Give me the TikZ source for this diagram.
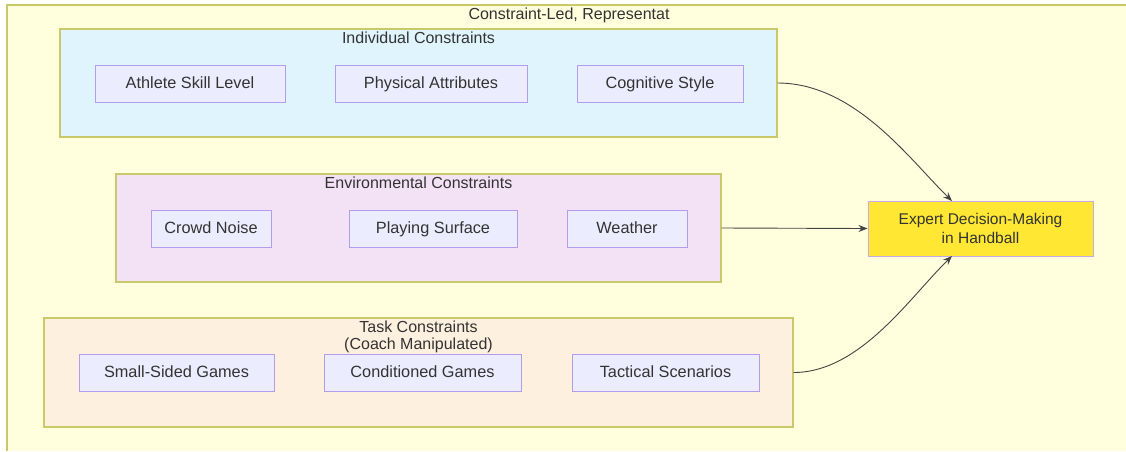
\documentclass[tikz,border=0pt]{standalone}
\usepackage{fontspec}
\setmainfont{Liberation Sans}
\usetikzlibrary{arrows.meta}
\definecolor{outerfill}{HTML}{FFFFDE}
\definecolor{clusterline}{HTML}{C9C96A}
\definecolor{indfill}{HTML}{DFF4FD}
\definecolor{envfill}{HTML}{F3E2F5}
\definecolor{taskfill}{HTML}{FEF0DF}
\definecolor{itemfill}{HTML}{ECECFF}
\definecolor{itemline}{HTML}{B39CEB}
\definecolor{goalfill}{HTML}{FFE733}
\definecolor{goalline}{HTML}{C9A8E6}
\definecolor{txt}{HTML}{333333}
\definecolor{edge}{HTML}{444444}
\tikzset{
  cluster/.style={draw=clusterline, line width=1.1pt, rectangle, inner sep=0pt},
  item/.style={draw=itemline, fill=itemfill, line width=1pt, rectangle, minimum height=37pt,
    inner sep=0pt, text=txt, text height=13pt, text depth=3pt,
    font=\fontsize{16.3}{19}\selectfont},
  ctitle/.style={text=txt, font=\fontsize{16}{19}\selectfont, inner sep=0pt,
    text height=13pt, text depth=3pt},
  goal/.style={draw=goalline, fill=goalfill, line width=1pt, rectangle, minimum width=225pt,
    minimum height=55pt, inner sep=0pt, align=center, text=txt,
    font=\fontsize{15.5}{19}\selectfont},
  link/.style={draw=edge, line width=0.9pt, -{Stealth[length=9pt,width=7pt]}}
}
\begin{document}
\begin{tikzpicture}[x=1pt,y=-1pt]
\useasboundingbox (0,0) rectangle (1126,451);
\fill[white] (0,0) rectangle (1126,451);
% outer frame
\fill[outerfill] (7,5) rectangle (1126,451);
\draw[clusterline, line width=1.1pt] (7,451) -- (7,5) -- (1126,5);
\node[ctitle] (outertitle) at (569,14) {Constraint-Led, Representat};

% individual constraints
\node[cluster, fill=indfill, minimum width=717pt, minimum height=108pt] (ind) at (418.5,83) {};
\node[ctitle] (indtitle) at (418.5,38) {Individual Constraints};
\node[item, minimum width=190pt] (skill) at (190,83.5) {Athlete Skill Level};
\node[item, minimum width=192pt] (phys) at (431,83.5) {Physical Attributes};
\node[item, minimum width=166pt] (cog) at (660,83.5) {Cognitive Style};

% environmental constraints
\node[cluster, fill=envfill, minimum width=605pt, minimum height=108pt] (env) at (418.5,228) {};
\node[ctitle] (envtitle) at (418.5,183) {Environmental Constraints};
\node[item, minimum width=120pt] (crowd) at (211,228.5) {Crowd Noise};
\node[item, minimum width=168pt] (surf) at (433,228.5) {Playing Surface};
\node[item, minimum width=120pt] (weather) at (627,228.5) {Weather};

% task constraints
\node[cluster, fill=taskfill, minimum width=749pt, minimum height=109pt] (task) at (418.5,372.5) {};
\node[ctitle] (tasktitle) at (418.5,327) {Task Constraints};
\node[ctitle] (tasksub) at (418.5,344) {(Coach Manipulated)};
\node[item, minimum width=195pt] (ssg) at (176.5,372.5) {Small-Sided Games};
\node[item, minimum width=197pt] (cond) at (422.5,372.5) {Conditioned Games};
\node[item, minimum width=187pt] (tact) at (665.5,372.5) {Tactical Scenarios};

% outcome
\node[goal] (goal) at (980.5,228.5) {Expert Decision-Making\\in Handball};
\coordinate (goaltop) at (952,201);
\coordinate (goalbot) at (952,256);

% connectors
\draw[link] (ind.east) .. controls (855,83) and (910,160) .. (goaltop);
\draw[link] (env.east) -- (goal.west);
\draw[link] (task.east) .. controls (860,372.5) and (910,297) .. (goalbot);
\end{tikzpicture}
\end{document}
